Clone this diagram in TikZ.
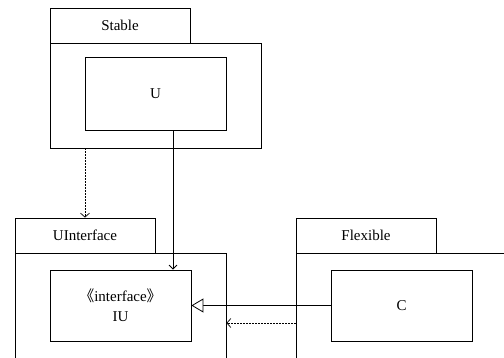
\documentclass[tikz,border=0pt]{standalone}
\usepackage{fontspec}
\setmainfont{Liberation Serif}
\newfontfamily\cjk{Noto Sans CJK SC}
\usetikzlibrary{arrows.meta,positioning}

\tikzset{
  pkgtab/.style={draw, line width=0.8pt, minimum width=140pt, minimum height=35pt, inner sep=0pt},
  pkgbody/.style={draw, line width=0.8pt, minimum width=211pt, minimum height=115pt, inner sep=0pt},
  cls/.style={draw, line width=0.8pt, fill=white, minimum width=141pt, minimum height=71pt, inner sep=0pt, align=center},
  dep/.style={line width=0.7pt, dash pattern=on 2pt off 1pt, -{Straight Barb[length=4pt,width=9pt]}},
  assoc/.style={line width=0.8pt, -{Straight Barb[length=4pt,width=8pt]}},
  realize/.style={line width=0.8pt, -{Triangle[open,length=12pt,width=14pt,fill=white]}}
}

\begin{document}
\begin{tikzpicture}[x=1pt, y=-1pt, font=\fontsize{15}{20}\selectfont]
  \useasboundingbox (0,0) rectangle (504,358);
  \clip (0,0) rectangle (504,358);

  % stable package
  \node[pkgtab] (stabletab) at (120,25.5) {Stable};
  \node[pkgbody, minimum height=105pt] (stable) at (155.5,95.5) {};
  \node[cls, minimum height=73pt] (u) at (155.5,93.5) {U};

  % interface package
  \node[pkgtab] (uitab) at (85,235.5) {UInterface};
  \node[pkgbody] (uibody) at (120.5,310.5) {};
  \node[cls] (iu) at (120.5,305.5) {{\cjk\kern-0.5em《}interface{\cjk》\kern-0.5em}\\IU};

  % flexible package
  \node[pkgtab] (flextab) at (366,235.5) {Flexible};
  \node[pkgbody] (flex) at (401.5,310.5) {};
  \node[cls] (c) at (401.5,305.5) {C};

  % connectors
  \draw[dep] (stable.south -| uitab.north) -- (uitab.north);
  \draw[assoc] ([xshift=17.5pt]u.south) -- ([xshift=17.5pt]u.south |- iu.north);
  \draw[realize] (c.west) -- (iu.east);
  \draw[dep] (flex.west |- 0,323) -- (uibody.east |- 0,323);
\end{tikzpicture}
\end{document}
